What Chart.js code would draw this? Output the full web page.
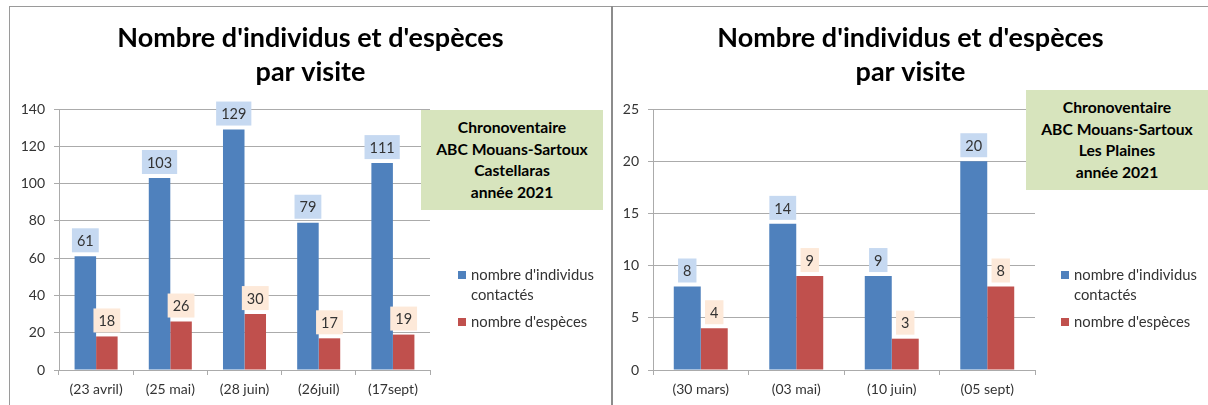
<!DOCTYPE html>
<html>
<head>
<meta charset="utf-8">
<script src="https://cdn.jsdelivr.net/npm/chart.js@4/dist/chart.umd.min.js"></script>
<style>
  html, body { margin: 0; padding: 0; background: #fff; }
  body { width: 1208px; height: 405px; position: relative; overflow: hidden; font-family: Lato, "Open Sans", sans-serif; }
  .panel { position: absolute; top: 7px; height: 398px; }
  .panel canvas { display: block; }
  .frameTop { position: absolute; left: 9px; top: 6px; width: 1199px; height: 1px; background: #9a9a9a; }
  .frameLeft { position: absolute; left: 9px; top: 6px; width: 1px; height: 399px; background: #9a9a9a; }
  .frameSep { position: absolute; left: 611px; top: 6px; width: 2px; height: 399px; background: #8c8c8c; }
  .note { position: absolute; background: #d7e4bd; color: #000; font-weight: bold; font-size: 15.7px; line-height: 21.5px; text-align: center; box-sizing: border-box; padding-top: 7px; }
  .legend { position: absolute; color: #333; font-size: 14.8px; line-height: 19.5px; }
  .legend .item { position: relative; padding-left: 13px; margin-bottom: 8px; }
  .legend .sw { position: absolute; left: 0; top: 6px; width: 8px; height: 8px; }
</style>
</head>
<body>
<div class="frameTop"></div>
<div class="frameLeft"></div>
<div class="frameSep"></div>

<div class="panel" style="left:10px;width:601px;"><canvas id="c1" width="601" height="398"></canvas></div>
<div class="panel" style="left:613px;width:595px;"><canvas id="c2" width="595" height="398"></canvas></div>

<div class="note" id="note1" style="left:421px;top:110px;width:182px;height:100px;"></div>
<div class="note" id="note2" style="left:1026px;top:90px;width:182px;height:100px;"></div>
<div class="legend" id="leg1" style="left:458px;top:265px;width:150px;"></div>
<div class="legend" id="leg2" style="left:1061px;top:265px;width:147px;"></div>

<script>
// ---- Data ----
const titleLines = ["Nombre d'individus et d'espèces", "par visite"];
const seriesNames = ["nombre d'individus contactés", "nombre d'espèces"];
const legendLines1 = ["nombre d'individus", "contactés"];
const legendLines2 = ["nombre d'espèces"];

const leftCategories = ["(23 avril)", "(25 mai)", "(28 juin)", "(26juil)", "(17sept)"];
const leftIndividus = [61, 103, 129, 79, 111];
const leftEspeces = [18, 26, 30, 17, 19];
const leftYMax = 140, leftYStep = 20;
const leftNote = ["Chronoventaire", "ABC Mouans-Sartoux", "Castellaras", "année 2021"];

const rightCategories = ["(30 mars)", "(03 mai)", "(10 juin)", "(05 sept)"];
const rightIndividus = [8, 14, 9, 20];
const rightEspeces = [4, 9, 3, 8];
const rightYMax = 25, rightYStep = 5;
const rightNote = ["Chronoventaire", "ABC Mouans-Sartoux", "Les Plaines", "année 2021"];

// ---- Styles ----
const BLUE = '#4f81bd', RED = '#c0504d';
const BLUE_LBL = '#c6d9f1', RED_LBL = '#fde9d9';
const GRID = '#ababab';
const TXT = '#333333';
const FONT = 'Lato, "Open Sans", sans-serif';

const valueLabels = {
  id: 'valueLabels',
  afterDatasetsDraw(chart) {
    const ctx = chart.ctx;
    ctx.save();
    ctx.font = '14.5px ' + FONT;
    ctx.textAlign = 'center';
    ctx.textBaseline = 'middle';
    chart.data.datasets.forEach((ds, di) => {
      const meta = chart.getDatasetMeta(di);
      meta.data.forEach((bar, i) => {
        const txt = String(ds.data[i]);
        const w = ctx.measureText(txt).width + 10;
        const h = 24;
        const bottom = bar.y - 4;
        ctx.fillStyle = ds.labelBg;
        ctx.fillRect(bar.x - w / 2, bottom - h, w, h);
        ctx.fillStyle = TXT;
        ctx.fillText(txt, bar.x, bottom - h / 2 + 1);
      });
    });
    ctx.restore();
  }
};

function makeChart(id, cats, ind, esp, yMax, yStep, yWidth, rightReserve, catPct) {
  return new Chart(document.getElementById(id), {
    type: 'bar',
    data: {
      labels: cats,
      datasets: [
        { label: seriesNames[0], data: ind, backgroundColor: BLUE, labelBg: BLUE_LBL,
          categoryPercentage: catPct, barPercentage: 1 },
        { label: seriesNames[1], data: esp, backgroundColor: RED, labelBg: RED_LBL,
          categoryPercentage: catPct, barPercentage: 1 }
      ]
    },
    options: {
      responsive: false,
      animation: false,
      layout: { padding: 0 },
      plugins: {
        legend: { display: false },
        tooltip: { enabled: false },
        title: {
          display: true,
          text: titleLines,
          color: '#000',
          font: { family: FONT, size: 27, weight: 'bold', lineHeight: 1.26 },
          padding: { top: 14, bottom: 20 }
        }
      },
      scales: {
        x: {
          grid: { display: true, drawOnChartArea: false, offset: true, tickLength: 5, color: GRID },
          border: { display: true, color: GRID },
          ticks: { color: TXT, font: { family: FONT, size: 14 }, padding: 6, maxRotation: 0 },
          afterFit(s) { s.height = 35; }
        },
        y: {
          min: 0, max: yMax,
          grid: { color: GRID, tickLength: 5 },
          border: { display: true, color: GRID },
          ticks: { stepSize: yStep, color: TXT, font: { family: FONT, size: 14 }, padding: 9 },
          afterFit(s) { s.width = yWidth; }
        },
        pad: {
          type: 'linear', position: 'right', display: true,
          grid: { display: false }, border: { display: false }, ticks: { display: false },
          afterFit(s) { s.width = rightReserve; }
        }
      }
    },
    plugins: [valueLabels]
  });
}

makeChart('c1', leftCategories, leftIndividus, leftEspeces, leftYMax, leftYStep, 49, 181, 0.58);
makeChart('c2', rightCategories, rightIndividus, rightEspeces, rightYMax, rightYStep, 40, 173, 0.565);

function fillNote(id, lines) {
  const el = document.getElementById(id);
  lines.forEach(l => { const d = document.createElement('div'); d.textContent = l; el.appendChild(d); });
}
fillNote('note1', leftNote);
fillNote('note2', rightNote);

function fillLegend(id) {
  const el = document.getElementById(id);
  [[BLUE, legendLines1], [RED, legendLines2]].forEach(([col, lines]) => {
    const it = document.createElement('div'); it.className = 'item';
    const sw = document.createElement('span'); sw.className = 'sw'; sw.style.background = col;
    it.appendChild(sw);
    lines.forEach(l => { const d = document.createElement('div'); d.textContent = l; it.appendChild(d); });
    el.appendChild(it);
  });
}
fillLegend('leg1');
fillLegend('leg2');
</script>
</body>
</html>
